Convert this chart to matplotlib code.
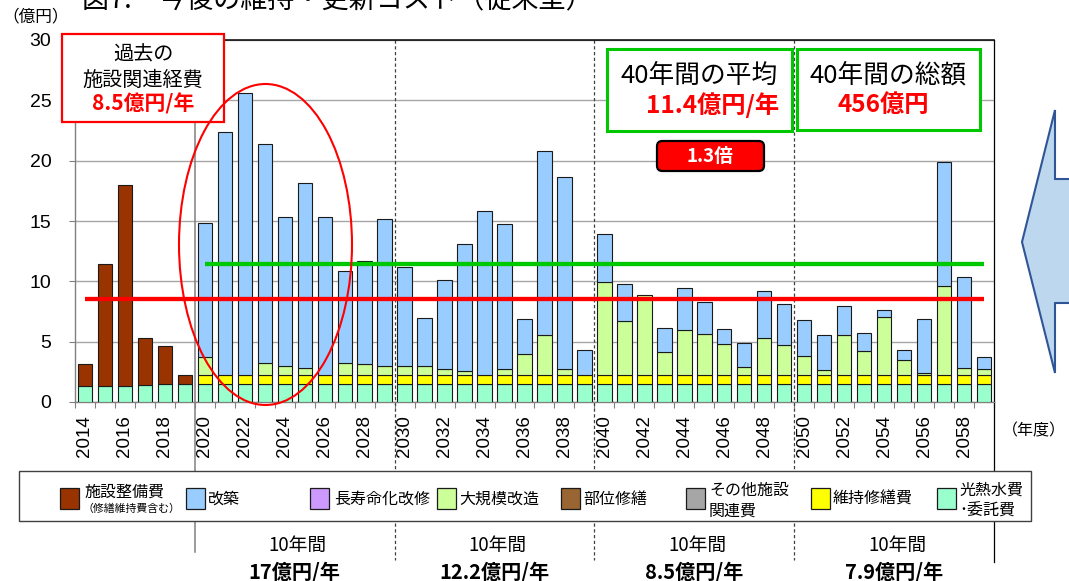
import matplotlib
matplotlib.use("Agg")
import matplotlib.pyplot as plt
import matplotlib.transforms as mtransforms
import numpy as np
from matplotlib.patches import Rectangle, Ellipse, Polygon, FancyBboxPatch

plt.rcParams['font.family'] = ['Noto Sans CJK JP', 'DejaVu Sans']

W, H, DPI = 1069, 581, 100

# ---------------------------------------------------------------- data
years = list(range(2014, 2060))

# 光熱水費・委託費
utility = [1.3, 1.3, 1.3, 1.4, 1.5, 1.5,
           1.5, 1.5, 1.5, 1.5, 1.5, 1.5, 1.5, 1.5, 1.5, 1.5,
           1.5, 1.5, 1.5, 1.5, 1.5, 1.5, 1.5, 1.5, 1.5, 1.5,
           1.5, 1.5, 1.5, 1.5, 1.5, 1.5, 1.5, 1.5, 1.5, 1.5,
           1.5, 1.5, 1.5, 1.5, 1.5, 1.5, 1.5, 1.5, 1.5, 1.5]
# 維持修繕費
maintenance = [0, 0, 0, 0, 0, 0,
               0.75, 0.75, 0.75, 0.75, 0.75, 0.75, 0.75, 0.75, 0.75, 0.75,
               0.75, 0.75, 0.75, 0.75, 0.75, 0.75, 0.75, 0.75, 0.75, 0.75,
               0.75, 0.75, 0.75, 0.75, 0.75, 0.75, 0.75, 0.75, 0.75, 0.75,
               0.75, 0.75, 0.75, 0.75, 0.75, 0.75, 0.75, 0.75, 0.75, 0.75]
# その他施設関連費
other_related = [0] * 46
# 部位修繕
part_repair = [0] * 46
# 大規模改造
major_renovation = [0, 0, 0, 0, 0, 0,
                    1.51, 0, 0, 0.98, 0.73, 0.57, 0, 0.98, 0.93, 0.75,
                    0.73, 0.73, 0.45, 0.29, 0, 0.45, 1.75, 3.30, 0.45, 0,
                    7.69, 4.46, 6.59, 1.89, 3.71, 3.35, 2.55, 0.68, 3.02, 2.47,
                    1.56, 0.37, 3.30, 1.97, 4.79, 1.20, 0.15, 7.39, 0.54, 0.45]
# 長寿命化改修
longevity = [0] * 46
# 改築
rebuild = [0, 0, 0, 0, 0, 0,
           11.10, 20.09, 23.32, 18.14, 12.35, 15.30, 13.05, 7.65, 8.50, 12.13,
           8.18, 3.95, 7.40, 10.55, 13.55, 12.07, 2.85, 15.22, 15.97, 2.08,
           3.98, 3.04, 0, 2.02, 3.46, 2.66, 1.22, 1.99, 3.90, 3.37,
           2.98, 2.96, 2.38, 1.47, 0.61, 0.88, 4.48, 10.22, 7.59, 1.00]
# 施設整備費（修繕維持費含む）
facility = [1.85, 10.10, 16.70, 3.93, 3.10, 0.74,
            0, 0, 0, 0, 0, 0, 0, 0, 0, 0,
            0, 0, 0, 0, 0, 0, 0, 0, 0, 0,
            0, 0, 0, 0, 0, 0, 0, 0, 0, 0,
            0, 0, 0, 0, 0, 0, 0, 0, 0, 0]

past_average = 8.5          # 過去の施設関連経費（億円/年）
forty_year_average = 11.4   # 40年間の平均（億円/年）
forty_year_total = 456      # 40年間の総額（億円）
ratio_label = '1.3倍'
decade_labels = ['17億円/年', '12.2億円/年', '8.5億円/年', '7.9億円/年']

legend_labels = ['施設整備費', '改築', '長寿命化改修', '大規模改造',
                 '部位修繕', 'その他施設\n関連費', '維持修繕費', '光熱水費\n･委託費']

# ---------------------------------------------------------------- styles
C_UTIL = '#99ffcc'
C_MAINT = '#ffff00'
C_OTHER = '#a6a6a6'
C_PART = '#996633'
C_MAJOR = '#ccff99'
C_LONG = '#cc99ff'
C_REBUILD = '#99ccff'
C_FACIL = '#993300'
RED = '#ff0000'
GREEN = '#00c800'
NUM_FONT = 'Liberation Sans'
JP = ['Noto Sans CJK JP', 'DejaVu Sans']


def fx(px):
    return px / W


def fy(py):
    return 1 - py / H


fig = plt.figure(figsize=(W / DPI, H / DPI), dpi=DPI)
fig.patch.set_facecolor('white')
ax = fig.add_axes([fx(75), fy(402), 919 / W, 362 / H])

n = len(years)
x = np.arange(n)
ax.set_xlim(-0.5, n - 0.5)
ax.set_ylim(0, 30)

# stacked bars, bottom to top
stack = [(utility, C_UTIL), (maintenance, C_MAINT), (other_related, C_OTHER),
         (part_repair, C_PART), (major_renovation, C_MAJOR), (longevity, C_LONG),
         (rebuild, C_REBUILD), (facility, C_FACIL)]
bottom = np.zeros(n)
for vals, col in stack:
    v = np.asarray(vals, dtype=float)
    m = v > 0
    if m.any():
        ax.bar(x[m], v[m], bottom=bottom[m], width=0.72, color=col,
               edgecolor='#1a1a1a', linewidth=0.8, zorder=3)
    bottom += v

# average lines
ax.plot([0, n - 1], [past_average, past_average], color=RED, lw=3.1,
        solid_capstyle='butt', zorder=5)
ax.plot([6, n - 1], [forty_year_average, forty_year_average], color=GREEN, lw=3.1,
        solid_capstyle='butt', zorder=5)

# grid, spines, ticks
ax.set_yticks(range(0, 31, 5))
ax.yaxis.grid(True, color='#a6a6a6', lw=1.0)
ax.set_axisbelow(True)
for side, col, lw in [('left', '#808080', 1.0), ('bottom', '#808080', 1.0),
                      ('top', '#000000', 1.1), ('right', '#000000', 0.9)]:
    ax.spines[side].set_color(col)
    ax.spines[side].set_linewidth(lw)

ax.tick_params(axis='y', direction='out', length=4, width=0.8, color='#808080',
               pad=13, labelsize=14)
ax.set_xticks(x[::2])
ax.set_xticklabels([str(y) for y in years[::2]], rotation=90)
ax.set_xticks(np.arange(-0.5, n, 1.0), minor=True)
ax.tick_params(axis='x', which='major', length=0, pad=9.5, labelsize=13.5)
ax.tick_params(axis='x', which='minor', direction='out', length=4, width=0.8,
               color='#808080')
for lab in ax.get_xticklabels() + ax.get_yticklabels():
    lab.set_fontfamily(NUM_FONT)

# period separators running below the plot
trans = mtransforms.blended_transform_factory(ax.transData, fig.transFigure)
ax.plot([5.5, 5.5], [fy(40), fy(552)], transform=trans, color='#808080', lw=1.1,
        clip_on=False, zorder=2)
for xb in (15.5, 25.5, 35.5):
    ax.plot([xb, xb], [fy(40), fy(560)], transform=trans, color='#404040', lw=0.9,
            linestyle=(0, (2.6, 2.0)), clip_on=False, zorder=2)
ax.plot([n - 0.5, n - 0.5], [fy(402), fy(562)], transform=trans, color='#000000',
        lw=0.9, clip_on=False, zorder=2)

# ---------------------------------------------------------------- annotations
fig.text(fx(82), fy(0), '図7.　今後の維持・更新コスト（従来型）', ha='left', va='center',
         fontsize=19.5, family=JP)
fig.text(fx(36), fy(17), '（億円）', ha='center', va='center', fontsize=12, family=JP)
fig.text(fx(1066), fy(431), '（年度）', ha='right', va='center', fontsize=11.5, family=JP)


def frame(x0, y0, x1, y1, ec, lw, z=5):
    r = Rectangle((fx(x0), fy(y1)), (x1 - x0) / W, (y1 - y0) / H,
                  transform=fig.transFigure, facecolor='white', edgecolor=ec,
                  linewidth=lw, zorder=z)
    fig.add_artist(r)


frame(62, 34, 224, 122, RED, 1.6)
fig.text(fx(143), fy(55), '過去の', ha='center', va='center', fontsize=14.5, family=JP, zorder=6)
fig.text(fx(143), fy(80), '施設関連経費', ha='center', va='center', fontsize=14.5, family=JP, zorder=6)
fig.text(fx(143), fy(104), f'{past_average}億円/年', ha='center', va='center', fontsize=15,
         fontweight='bold', color=RED, family=JP, zorder=6)

frame(607, 49, 792, 131, GREEN, 2.2)
fig.text(fx(699), fy(76), '40年間の平均', ha='center', va='center', fontsize=18.5, family=JP, zorder=6)
fig.text(fx(713), fy(105), f'{forty_year_average}億円/年', ha='center', va='center', fontsize=17.5,
         fontweight='bold', color=RED, family=JP, zorder=6)

frame(797, 49, 980, 130, GREEN, 2.2)
fig.text(fx(888), fy(76), '40年間の総額', ha='center', va='center', fontsize=18.5, family=JP, zorder=6)
fig.text(fx(883), fy(105), f'{forty_year_total}億円', ha='center', va='center', fontsize=17.5,
         fontweight='bold', color=RED, family=JP, zorder=6)

badge = FancyBboxPatch((fx(657), fy(171)), 107 / W, 30 / H,
                       boxstyle='round,pad=0,rounding_size=0.005', mutation_aspect=W / H,
                       transform=fig.transFigure, facecolor=RED, edgecolor='#000000',
                       linewidth=1.6, zorder=6)
fig.add_artist(badge)
fig.text(fx(710), fy(156), ratio_label, ha='center', va='center', fontsize=13.5,
         fontweight='bold', color='white', family=JP, zorder=7)

ring = Ellipse((fx(265.5), fy(244.5)), 173 / W, 321 / H, transform=fig.transFigure,
               fill=False, edgecolor=RED, linewidth=1.5, zorder=7)
fig.add_artist(ring)

arrow_pts = [(1080, 179), (1055, 179), (1055, 110), (1022, 242), (1055, 373),
             (1055, 303), (1080, 303)]
arrow = Polygon([(fx(px), fy(py)) for px, py in arrow_pts], closed=True,
                transform=fig.transFigure, facecolor='#bdd7ee', edgecolor='#2f5597',
                linewidth=1.5, zorder=5)
fig.add_artist(arrow)

# period summaries under the axis
for i, lab in enumerate(decade_labels):
    xc = 10.5 + 10 * i
    ax.text(xc + 0.15, fy(545), '10年間', transform=trans, ha='center', va='center',
            fontsize=13.5, family=JP, clip_on=False)
    ax.text(xc, fy(572), lab, transform=trans, ha='center', va='center',
            fontsize=14.5, fontweight='bold', family=JP, clip_on=False)

# ---------------------------------------------------------------- legend
frame(19, 471, 1031, 521, '#404040', 1.0, z=8)
legend_colors = [C_FACIL, C_REBUILD, C_LONG, C_MAJOR, C_PART, C_OTHER, C_MAINT, C_UTIL]
square_x = [60, 185.5, 310, 436.5, 561, 686, 811, 937]
text_x = [84, 208, 334.5, 459, 583.5, 709, 833, 959]
for lab, col, sx, tx in zip(legend_labels, legend_colors, square_x, text_x):
    sq = Rectangle((fx(sx), fy(509)), 19 / W, 21 / H, transform=fig.transFigure,
                   facecolor=col, edgecolor='#1a1a1a', linewidth=0.9, zorder=9)
    fig.add_artist(sq)
    lines = lab.split('\n')
    if len(lines) == 1 and lab == legend_labels[0]:
        fig.text(fx(tx), fy(492), lab, ha='left', va='center', fontsize=11.5, family=JP, zorder=9)
        fig.text(fx(tx - 2), fy(509), '（修繕維持費含む）', ha='left', va='center', fontsize=7.8,
                 family=JP, zorder=9)
    elif len(lines) == 1:
        fig.text(fx(tx), fy(499), lab, ha='left', va='center', fontsize=11.5, family=JP, zorder=9)
    else:
        fig.text(fx(tx), fy(490.5), lines[0], ha='left', va='center', fontsize=11.5, family=JP, zorder=9)
        fig.text(fx(tx), fy(511), lines[1], ha='left', va='center', fontsize=11.5, family=JP, zorder=9)

fig.savefig('out.png', dpi=DPI, facecolor='white')
